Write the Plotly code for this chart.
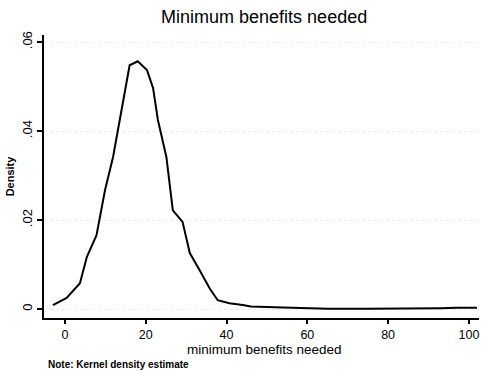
import plotly.graph_objects as go

# Kernel density estimate of minimum benefits needed
benefits = [-3, 0.4, 3.7, 5.4, 7.8, 9.9, 11.9, 13.6, 16, 18, 20.3, 21.8, 23,
            25.1, 26.7, 29.1, 30.9, 33.3, 35.8, 37.8, 40.7, 44, 46, 52, 58,
            65, 75, 85, 93, 97, 102]
density = [0.0009, 0.0025, 0.0058, 0.0117, 0.0166, 0.0267, 0.0342, 0.0425,
           0.0548, 0.0557, 0.0537, 0.0497, 0.0425, 0.0342, 0.0222, 0.0196,
           0.0126, 0.0088, 0.0047, 0.0020, 0.0013, 0.0009, 0.0006, 0.0004,
           0.0002, 0.0001, 0.0001, 0.0001, 0.0002, 0.0003, 0.0003]

x_ticks = [0, 20, 40, 60, 80, 100]
y_ticks = [0, 0.02, 0.04, 0.06]
y_tick_labels = ["0", ".02", ".04", ".06"]

font = "Liberation Sans, Arial, sans-serif"

fig = go.Figure()
fig.add_trace(go.Scatter(x=benefits, y=density, mode="lines",
                         line=dict(color="black", width=2), showlegend=False))

fig.update_layout(
    width=482, height=371,
    margin=dict(l=44, r=3, t=35, b=53),
    paper_bgcolor="white", plot_bgcolor="white",
    font=dict(family=font, color="black"),
    title=dict(text="Minimum benefits needed", x=0.548, xanchor="center",
               y=0.955, yanchor="middle", font=dict(size=18, color="black")),
    xaxis=dict(range=[-5.2, 102.5], tickvals=x_ticks, showgrid=False,
               zeroline=False, showline=True, linecolor="black", linewidth=2,
               ticks="outside", ticklen=4, tickwidth=1.5, tickcolor="black",
               tickfont=dict(size=12.5), ticklabelstandoff=0),
    yaxis=dict(range=[-0.002, 0.0616], tickvals=y_ticks, ticktext=y_tick_labels,
               tickangle=-90, showgrid=True, gridcolor="#ececec", griddash="dot",
               gridwidth=1, zeroline=False, showline=True, linecolor="black",
               linewidth=2, ticks="outside", ticklen=5, tickwidth=1.5,
               tickcolor="black", tickfont=dict(size=13),
               title=dict(text="<b>Density</b>", standoff=3,
                          font=dict(size=11))),
    annotations=[
        dict(text="minimum benefits needed", xref="paper", yref="paper",
             x=0.508, y=-0.113, xanchor="center", yanchor="middle",
             showarrow=False, font=dict(size=13.5, color="black")),
        dict(text="<b>Note: Kernel density estimate</b>",
             xref="paper", yref="paper", x=0.005, y=-0.166,
             xanchor="left", yanchor="middle", showarrow=False,
             font=dict(size=10, color="black")),
    ],
)

fig.write_html("out.html")
